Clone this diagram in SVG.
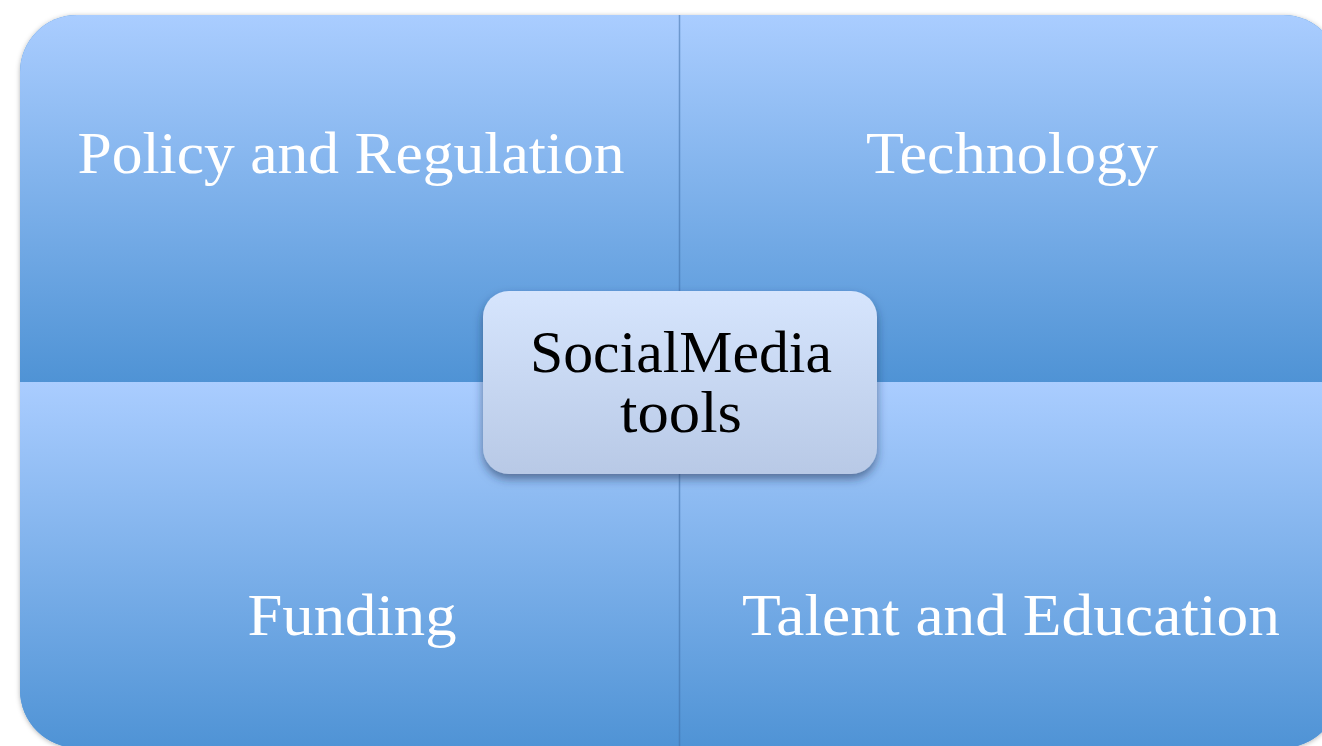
<svg xmlns="http://www.w3.org/2000/svg" width="1322" height="746" viewBox="0 0 1322 746">
<defs>
<linearGradient id="qg" x1="0" y1="0" x2="0" y2="1">
<stop offset="0" stop-color="#aacdff"/>
<stop offset="1" stop-color="#4f93d5"/>
</linearGradient>
<linearGradient id="cg" x1="0" y1="0" x2="0" y2="1">
<stop offset="0" stop-color="#d6e5fd"/>
<stop offset="1" stop-color="#b8c9e6"/>
</linearGradient>
<filter id="qs" x="-10%" y="-10%" width="120%" height="120%">
<feDropShadow dx="0" dy="1" stdDeviation="2.5" flood-color="#000" flood-opacity="0.3"/>
</filter>
<filter id="cs" x="-20%" y="-20%" width="140%" height="150%">
<feDropShadow dx="0" dy="5" stdDeviation="5" flood-color="#1a3350" flood-opacity="0.55"/>
</filter>
</defs>
<style>
.q{fill:url(#qg)}
.qt{font-family:"Liberation Serif","Times New Roman",serif;font-size:60px;fill:#ffffff;text-anchor:middle}
.ct{font-family:"Liberation Serif","Times New Roman",serif;font-size:60px;fill:#000000;text-anchor:middle}
</style>
<rect width="1322" height="746" fill="#ffffff"/>
<path d="M20,72 A57,57 0 0 1 77,15 H1283 A57,57 0 0 1 1340,72 V690 A58,58 0 0 1 1282,748 H78 A58,58 0 0 1 20,690 Z" fill="#4f93d5" filter="url(#qs)"/>
<g id="quad-policy">
<path class="q" d="M20,382 V72 A57,57 0 0 1 77,15 H680 V382 Z"/>
<text class="qt" x="351" y="173" textLength="547" lengthAdjust="spacingAndGlyphs">Policy and Regulation</text>
</g>
<g id="quad-technology">
<path class="q" d="M679.5,15 H1283 A57,57 0 0 1 1340,72 V382 H679.5 Z"/>
<text class="qt" x="1012" y="173" textLength="292" lengthAdjust="spacingAndGlyphs">Technology</text>
</g>
<g id="quad-funding">
<path class="q" d="M20,382 H680 V748 H78 A58,58 0 0 1 20,690 Z"/>
<text class="qt" x="352" y="635" textLength="209" lengthAdjust="spacingAndGlyphs">Funding</text>
</g>
<g id="quad-talent">
<path class="q" d="M679.5,382 H1340 V690 A58,58 0 0 1 1282,748 H679.5 Z"/>
<text class="qt" x="1011" y="635" textLength="538" lengthAdjust="spacingAndGlyphs">Talent and Education</text>
</g>
<g id="connectors">
<line x1="679.5" y1="15" x2="679.5" y2="746" stroke="#3f6fa8" stroke-width="1.5" stroke-opacity="0.55"/>
</g>
<g id="center">
<rect x="483" y="291" width="394" height="183" rx="26" fill="url(#cg)" filter="url(#cs)"/>
<text class="ct" x="681" y="372" textLength="302" lengthAdjust="spacingAndGlyphs">SocialMedia</text>
<text class="ct" x="681" y="432" textLength="122" lengthAdjust="spacingAndGlyphs">tools</text>
</g>
</svg>
